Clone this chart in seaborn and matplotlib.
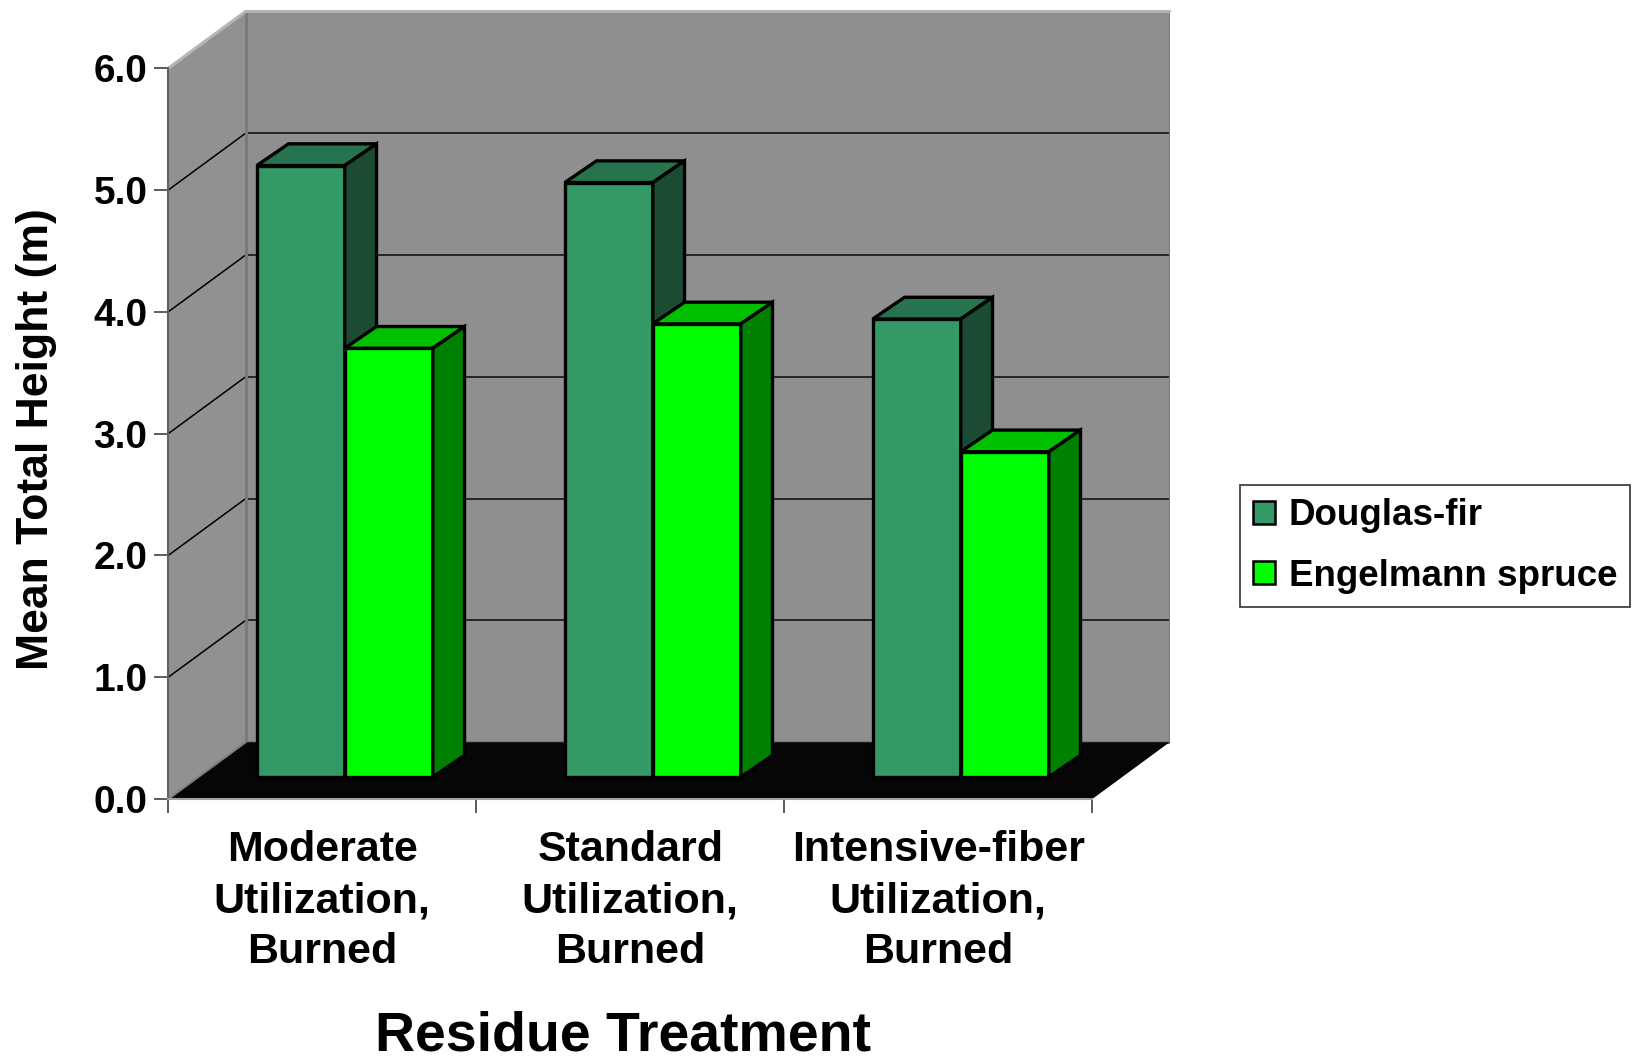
import matplotlib
matplotlib.use("Agg")
import matplotlib.pyplot as plt
from matplotlib.patches import Polygon, Patch
import pandas as pd
import seaborn as sns

# ---- data -------------------------------------------------------------
treatments = [
    "Moderate\nUtilization,\nBurned",
    "Standard\nUtilization,\nBurned",
    "Intensive-fiber\nUtilization,\nBurned",
]
species = ["Douglas-fir", "Engelmann spruce"]
douglas_fir = [5.02, 4.88, 3.76]
engelmann_spruce = [3.52, 3.72, 2.67]
y_ticks = [0, 1, 2, 3, 4, 5, 6]
y_tick_labels = ["0.0", "1.0", "2.0", "3.0", "4.0", "5.0", "6.0"]

# ---- styling ------------------------------------------------------------
front_colors = ["#339966", "#00ff00"]
top_colors = ["#26734d", "#00c000"]
side_colors = ["#1b4b33", "#008000"]
WALL_GRAY = "#8f8f8f"

# oblique "3-D" offsets (x in category units, y in value units)
WALL_DX, WALL_DY = 0.251, 0.466     # depth of the back wall
BAR_DX, BAR_DY = 0.073, 0.181       # where the bar front faces sit
DEPTH_DX, DEPTH_DY = 0.103, 0.178   # depth of each bar

df = pd.DataFrame({
    "treatment": treatments * 2,
    "species": [species[0]] * len(treatments) + [species[1]] * len(treatments),
    "height": douglas_fir + engelmann_spruce,
})

sns.set_theme(style="white")
plt.rcParams["font.family"] = ["Liberation Sans", "DejaVu Sans"]
plt.rcParams["font.weight"] = "bold"
plt.rcParams["text.color"] = "black"

fig = plt.figure(figsize=(16.35, 10.62), dpi=100)
ax = fig.add_axes([0.10294, 0.24765, 0.61242, 0.74548])
ax.patch.set_visible(False)

sns.barplot(
    data=df, x="treatment", y="height", hue="species",
    order=treatments, hue_order=species, palette=front_colors,
    saturation=1, width=0.5714, errorbar=None, legend=False,
    edgecolor="black", linewidth=2.4, ax=ax,
)

# ---- walls and floor ------------------------------------------------------
x0, x1 = -0.5, len(treatments) - 0.5
top = y_ticks[-1]
ax.add_patch(Polygon([(x0 + WALL_DX, WALL_DY), (x1 + WALL_DX, WALL_DY),
                      (x1 + WALL_DX, top + WALL_DY), (x0 + WALL_DX, top + WALL_DY)],
                     closed=True, fc=WALL_GRAY, ec="none", zorder=0.1))
ax.add_patch(Polygon([(x0, 0), (x0 + WALL_DX, WALL_DY),
                      (x0 + WALL_DX, top + WALL_DY), (x0, top)],
                     closed=True, fc="#919191", ec="none", zorder=0.1))
ax.add_patch(Polygon([(x0, 0), (x1, 0), (x1 + WALL_DX, WALL_DY), (x0 + WALL_DX, WALL_DY)],
                     closed=True, fc="#060606", ec="none", zorder=0.3))

for v in y_ticks[1:-1]:
    ax.plot([x0 + WALL_DX, x1 + WALL_DX], [v + WALL_DY] * 2,
            color="#262626", lw=1.4, zorder=0.25)
    ax.plot([x0, x0 + WALL_DX], [v, v + WALL_DY], color="black", lw=1.1, zorder=0.25)

ax.plot([x0 + WALL_DX] * 2, [WALL_DY, top + WALL_DY], color="#7a7a7a", lw=2.2, zorder=0.26)
ax.plot([x1 + WALL_DX] * 2, [WALL_DY, top + WALL_DY], color="#7a7a7a", lw=2.2, zorder=0.26)
ax.plot([x0 + WALL_DX, x1 + WALL_DX], [WALL_DY] * 2, color="#7a7a7a", lw=2.2, zorder=0.26)
ax.plot([x0, x0 + WALL_DX, x1 + WALL_DX], [top, top + WALL_DY, top + WALL_DY],
        color="#b5b5b5", lw=2.2, zorder=0.26, clip_on=False)
ax.plot([x0, x0 + WALL_DX], [0, WALL_DY], color="#808080", lw=1.5, zorder=0.35)

# ---- extrude the bars: shift front faces back, add top and side faces ----
for h, container in enumerate(ax.containers):
    for bar in container.patches:
        bx = bar.get_x() + BAR_DX
        bar.set_x(bx)
        bar.set_y(BAR_DY)
        bar.set_zorder(2 + h)
        w, ht = bar.get_width(), bar.get_height()
        yb, yt = BAR_DY, BAR_DY + ht
        top_face = Polygon([(bx, yt), (bx + w, yt), (bx + w + DEPTH_DX, yt + DEPTH_DY),
                            (bx + DEPTH_DX, yt + DEPTH_DY)], closed=True,
                           fc=top_colors[h], ec="black", lw=2.4, zorder=2 + h)
        side_face = Polygon([(bx + w, yb), (bx + w + DEPTH_DX, yb + DEPTH_DY),
                             (bx + w + DEPTH_DX, yt + DEPTH_DY), (bx + w, yt)], closed=True,
                            fc=side_colors[h], ec="black", lw=2.4, zorder=2 + h)
        ax.add_patch(top_face)
        ax.add_patch(side_face)

# ---- axes -----------------------------------------------------------------
ax.set_xlim(x0, x1 + WALL_DX)
ax.set_ylim(0, 6.5)
for s in ["top", "right"]:
    ax.spines[s].set_visible(False)
ax.spines["left"].set_bounds(0, top)
ax.spines["left"].set_color("#606060")
ax.spines["left"].set_linewidth(1.5)
ax.spines["bottom"].set_bounds(x0, x1)
ax.spines["bottom"].set_color("#a0a0a0")
ax.spines["bottom"].set_linewidth(1.5)
ax.spines["left"].set_zorder(5)
ax.spines["bottom"].set_zorder(5)

ax.set_yticks(y_ticks, labels=y_tick_labels)
ax.tick_params(axis="y", left=True, direction="out", length=10, width=1.2,
               color="#404040", pad=5, labelsize=28, labelcolor="black")
for t in ax.get_yticklabels():
    t.set_fontweight("bold")

ax.set_xticks([x0 + i for i in range(len(treatments) + 1)], labels=[])
ax.set_xticks(range(len(treatments)), labels=treatments, minor=True)
ax.tick_params(axis="x", which="major", bottom=True, direction="out", length=10,
               width=1.2, color="#404040")
ax.tick_params(axis="x", which="minor", bottom=True, length=0, pad=22,
               labelsize=31, labelcolor="black")
for t in ax.get_xticklabels(minor=True):
    t.set_fontweight("bold")
    t.set_multialignment("center")
    t.set_linespacing(1.37)

ax.set_xlabel("Residue Treatment", fontsize=40, fontweight="bold", color="black")
ax.xaxis.label.set_verticalalignment("center")
ax.xaxis.set_label_coords(0.4537, -0.3006)

ax.set_ylabel("Mean Total Height (m)", fontsize=32, fontweight="bold", color="black")
ax.yaxis.label.set(rotation_mode="default", va="center", ha="center")
ax.yaxis.set_label_coords(-0.1321, 0.4547)

# ---- legend ---------------------------------------------------------------
handles = [Patch(fc=front_colors[i], ec="black", lw=1.8, label=species[i])
           for i in range(len(species))]
leg = ax.legend(handles=handles, loc="center left",
                bbox_to_anchor=(1240 / 1635, 1 - 546 / 1062),
                bbox_transform=fig.transFigure, frameon=True, fancybox=False,
                edgecolor="black", prop={"weight": "bold", "size": 26.5},
                handlelength=0.6, handleheight=0.6, handletextpad=0.36,
                borderpad=0.36, labelspacing=0.68, borderaxespad=0)
leg.get_frame().set_linewidth(1.2)
for t in leg.get_texts():
    t.set_color("black")

fig.savefig("out.png", dpi=100, facecolor="white")
